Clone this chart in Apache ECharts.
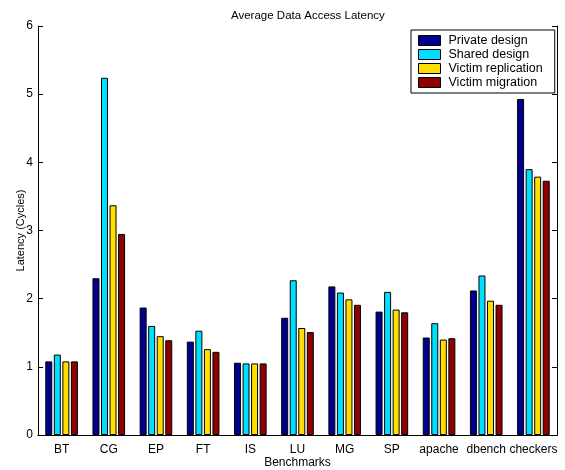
<!DOCTYPE html>
<html>
<head>
<meta charset="utf-8">
<script src="https://cdn.jsdelivr.net/npm/echarts@6/dist/echarts.min.js"></script>
<style>
  html, body { margin: 0; padding: 0; background: #fff; }
  #chart { width: 565px; height: 470px; }
</style>
</head>
<body>
<div id="chart"></div>
<script>
var benchmarks = ['BT', 'CG', 'EP', 'FT', 'IS', 'LU', 'MG', 'SP', 'apache', 'dbench', 'checkers'];
var seriesNames = ['Private design', 'Shared design', 'Victim replication', 'Victim migration'];
var privateDesign = [1.08, 2.30, 1.87, 1.37, 1.06, 1.72, 2.18, 1.81, 1.43, 2.12, 4.93];
var sharedDesign = [1.18, 5.24, 1.60, 1.53, 1.05, 2.27, 2.09, 2.10, 1.64, 2.34, 3.90];
var victimReplication = [1.08, 3.37, 1.45, 1.26, 1.05, 1.57, 1.99, 1.84, 1.40, 1.97, 3.79];
var victimMigration = [1.08, 2.95, 1.39, 1.22, 1.05, 1.51, 1.91, 1.80, 1.42, 1.91, 3.73];
var yTicks = [0, 1, 2, 3, 4, 5, 6];
var colors = ['#00008f', '#00dfff', '#ffdf00', '#8f0000'];

var font = 'Liberation Sans, Arial, sans-serif';
var chart = echarts.init(document.getElementById('chart'));

var allValues = [privateDesign, sharedDesign, victimReplication, victimMigration];
var series = [];
for (var i in allValues) {
  series.push({
    name: seriesNames[i],
    type: 'bar',
    data: allValues[i],
    barWidth: 7,
    barGap: '22%',
    itemStyle: { color: colors[i], borderColor: '#000', borderWidth: 1 }
  });
}

var option = {
  animation: false,
  title: {
    text: 'Average Data Access Latency',
    left: 226, top: 5,
    textStyle: { fontFamily: font, fontSize: 11.5, fontWeight: 'normal', color: '#000' }
  },
  legend: {
    orient: 'vertical',
    left: 411, top: 30,
    icon: 'rect',
    itemWidth: 22, itemHeight: 10, itemGap: 1,
    padding: [4, 12, 4, 7],
    borderColor: '#000', borderWidth: 1,
    backgroundColor: '#fff',
    textStyle: { fontFamily: font, fontSize: 12.5, color: '#000', padding: [0, 0, 0, 3] },
    itemStyle: { borderColor: '#000', borderWidth: 1 },
    data: seriesNames
  },
  grid: { left: 38, right: 8, top: 26, bottom: 35, outerBoundsMode: 'none' },
  xAxis: [{
    type: 'category',
    data: benchmarks,
    name: 'Benchmarks',
    nameLocation: 'middle',
    nameGap: 22,
    nameMoveOverlap: false,
    nameTextStyle: { fontFamily: font, fontSize: 12, color: '#000' },
    axisLine: { lineStyle: { color: '#000' } },
    axisTick: { inside: true, length: 5, alignWithLabel: true, lineStyle: { color: '#000' } },
    axisLabel: { fontFamily: font, fontSize: 12, color: '#000', margin: 9, interval: 0 }
  }, {
    type: 'category',
    data: benchmarks,
    position: 'top',
    axisLine: { lineStyle: { color: '#000' } },
    axisTick: { inside: true, length: 5, alignWithLabel: true, lineStyle: { color: '#000' } },
    axisLabel: { show: false }
  }],
  yAxis: [{
    type: 'value',
    min: yTicks[0], max: yTicks[yTicks.length - 1], interval: 1,
    name: 'Latency (Cycles)',
    nameLocation: 'middle',
    nameGap: 12,
    nameMoveOverlap: false,
    nameTextStyle: { fontFamily: font, fontSize: 11, color: '#000' },
    axisLine: { show: true, lineStyle: { color: '#000' } },
    axisTick: { show: true, inside: true, length: 5, lineStyle: { color: '#000' } },
    axisLabel: { fontFamily: font, fontSize: 12, color: '#000', margin: 5 },
    splitLine: { show: false }
  }, {
    type: 'value',
    min: yTicks[0], max: yTicks[yTicks.length - 1], interval: 1,
    position: 'right',
    axisLine: { show: true, lineStyle: { color: '#000' } },
    axisTick: { show: true, inside: true, length: 5, lineStyle: { color: '#000' } },
    axisLabel: { show: false },
    splitLine: { show: false }
  }],
  series: series
};

chart.setOption(option);
</script>
</body>
</html>
